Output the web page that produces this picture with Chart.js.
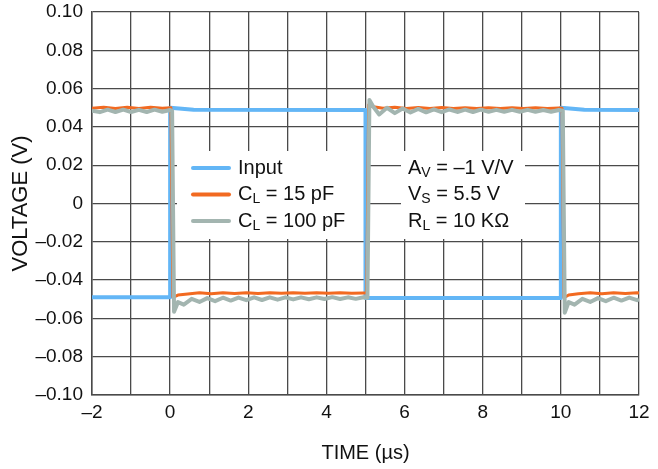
<!DOCTYPE html>
<html>
<head>
<meta charset="utf-8">
<script src="https://cdn.jsdelivr.net/npm/chart.js@4/dist/chart.umd.min.js"></script>
<style>
html,body{margin:0;padding:0;background:#fff;}
#wrap{width:658px;height:469px;position:relative;}
</style>
</head>
<body>
<div id="wrap"><canvas id="c" width="658" height="469"></canvas></div>
<script>
// ---- data ----
const xTickValues = [-2, 0, 2, 4, 6, 8, 10, 12];
const xTickLabels = ['\u20132', '0', '2', '4', '6', '8', '10', '12'];
const yTickValues = [-0.10, -0.08, -0.06, -0.04, -0.02, 0, 0.02, 0.04, 0.06, 0.08, 0.10];
const yTickLabels = ['\u20130.10', '\u20130.08', '\u20130.06', '\u20130.04', '\u20130.02', '0', '0.02', '0.04', '0.06', '0.08', '0.10'];

const seriesNames = ['Input', 'C_L = 15 pF', 'C_L = 100 pF'];

const inputTime = [-2, 0, 0, 0.6, 5, 5, 10, 10, 10.6, 12];
const inputVolt = [-0.0490, -0.0490, 0.0500, 0.0490, 0.0488, -0.0494, -0.0494, 0.0500, 0.0490, 0.0488];

const cl15Time = [-2.0, -1.7, -1.4, -1.1, -0.8, -0.5, -0.2, 0.02,
  0.07, 0.2, 0.45, 0.75, 1.05, 1.35, 1.65, 1.95, 2.25, 2.55, 2.85, 3.15, 3.45, 3.75, 4.05, 4.35, 4.65, 4.95, 5.03,
  5.08, 5.2, 5.45, 5.75, 6.05, 6.35, 6.65, 6.95, 7.25, 7.55, 7.85, 8.15, 8.45, 8.75, 9.05, 9.35, 9.65, 9.95, 10.03,
  10.08, 10.2, 10.45, 10.75, 11.05, 11.35, 11.65, 11.95, 12.0];
const cl15Volt = [0.0497, 0.0502, 0.0496, 0.0502, 0.0496, 0.0503, 0.0497, 0.0500,
  -0.0490, -0.0478, -0.0472, -0.0466, -0.0471, -0.0466, -0.0470, -0.0466, -0.0470, -0.0466, -0.0469, -0.0466, -0.0469, -0.0466, -0.0469, -0.0466, -0.0469, -0.0467, -0.0468,
  0.0515, 0.0505, 0.0497, 0.0502, 0.0496, 0.0501, 0.0496, 0.0501, 0.0496, 0.0500, 0.0496, 0.0500, 0.0496, 0.0500, 0.0496, 0.0500, 0.0496, 0.0499, 0.0498,
  -0.0492, -0.0478, -0.0471, -0.0466, -0.0471, -0.0466, -0.0470, -0.0466, -0.0467];

const cl100Time = [-2.0, -1.8, -1.6, -1.4, -1.2, -1.0, -0.8, -0.6, -0.4, -0.2, 0.0, 0.05,
  0.10, 0.20, 0.35, 0.55, 0.75, 0.95, 1.15, 1.35, 1.55, 1.75, 1.95, 2.15, 2.35, 2.55, 2.75, 2.95, 3.15, 3.35, 3.55, 3.75, 3.95, 4.15, 4.35, 4.55, 4.75, 4.95, 5.05,
  5.10, 5.20, 5.35, 5.55, 5.75, 5.95, 6.15, 6.35, 6.55, 6.75, 6.95, 7.15, 7.35, 7.55, 7.75, 7.95, 8.15, 8.35, 8.55, 8.75, 8.95, 9.15, 9.35, 9.55, 9.75, 9.95, 10.05,
  10.10, 10.20, 10.35, 10.55, 10.75, 10.95, 11.15, 11.35, 11.55, 11.75, 11.95, 12.0];
const cl100Volt = [0.0485, 0.0477, 0.0490, 0.0478, 0.0490, 0.0478, 0.0489, 0.0478, 0.0490, 0.0479, 0.0488, 0.0484,
  -0.0565, -0.0515, -0.0528, -0.0498, -0.0514, -0.0494, -0.0510, -0.0492, -0.0507, -0.0491, -0.0505, -0.0490, -0.0504, -0.0490, -0.0502, -0.0490, -0.0501, -0.0490, -0.0500, -0.0490, -0.0499, -0.0489, -0.0499, -0.0490, -0.0498, -0.0490, -0.0492,
  0.0540, 0.0505, 0.0465, 0.0500, 0.0472, 0.0496, 0.0475, 0.0494, 0.0476, 0.0492, 0.0477, 0.0491, 0.0478, 0.0490, 0.0478, 0.0490, 0.0479, 0.0489, 0.0479, 0.0489, 0.0479, 0.0489, 0.0479, 0.0488, 0.0479, 0.0488, 0.0485,
  -0.0570, -0.0515, -0.0528, -0.0498, -0.0514, -0.0494, -0.0510, -0.0492, -0.0507, -0.0491, -0.0505, -0.0500];

const annotationLines = [['A', 'V', ' = \u20131 V/V'], ['V', 'S', ' = 5.5 V'], ['R', 'L', ' = 10 K\u03A9']];

// ---- build ----
const FONT = "'Liberation Sans', Arial, Helvetica, sans-serif";
const COLORS = ['#63b6f6', '#f26a21', '#a3b5b0'];
const WIDTHS = [4, 3, 4];

function pts(t, v) { return t.map((x, i) => ({x: x, y: v[i]})); }

const datasets = [
  {label: seriesNames[0], data: pts(inputTime, inputVolt), borderColor: COLORS[0], borderWidth: WIDTHS[0], order: 3},
  {label: seriesNames[1], data: pts(cl15Time, cl15Volt), borderColor: COLORS[1], borderWidth: WIDTHS[1], order: 2},
  {label: seriesNames[2], data: pts(cl100Time, cl100Volt), borderColor: COLORS[2], borderWidth: WIDTHS[2], order: 1}
].map(d => Object.assign(d, {pointRadius: 0, tension: 0, fill: false, borderJoinStyle: 'round', borderCapStyle: 'butt'}));

function drawSub(ctx, x, y, main, sub, rest, size) {
  ctx.font = size + 'px ' + FONT;
  ctx.fillText(main, x, y);
  x += ctx.measureText(main).width;
  if (sub) {
    ctx.font = Math.round(size * 0.72) + 'px ' + FONT;
    ctx.fillText(sub, x, y + 5);
    x += ctx.measureText(sub).width;
  }
  ctx.font = size + 'px ' + FONT;
  ctx.fillText(rest, x, y);
}

const boxPlugin = {
  id: 'boxes',
  beforeDatasetsDraw(chart) {
    const ctx = chart.ctx;
    ctx.save();
    ctx.fillStyle = '#fff';
    ctx.fillRect(177, 151, 191, 88);
    ctx.fillRect(401, 151, 124, 88);
    ctx.restore();
  },
  afterDatasetsDraw(chart) {
    const ctx = chart.ctx;
    ctx.save();
    const rows = [168, 194.5, 221];
    const order = [0, 1, 2];
    ctx.textBaseline = 'middle';
    ctx.fillStyle = '#111';
    order.forEach((k, i) => {
      ctx.strokeStyle = COLORS[k];
      ctx.lineWidth = 4;
      ctx.lineCap = 'round';
      ctx.beginPath();
      ctx.moveTo(193, rows[i]);
      ctx.lineTo(229, rows[i]);
      ctx.stroke();
      const name = seriesNames[k];
      if (name.indexOf('_') > 0) {
        const main = name.split('_')[0];
        const sub = name.split('_')[1].charAt(0);
        const rest = name.split('_')[1].slice(1);
        drawSub(ctx, 238, rows[i], main, sub, rest, 20);
      } else {
        drawSub(ctx, 238, rows[i], name, '', '', 20);
      }
    });
    annotationLines.forEach((a, i) => {
      drawSub(ctx, 408, rows[i], a[0], a[1], a[2], 20);
    });
    ctx.restore();
  }
};

new Chart(document.getElementById('c'), {
  type: 'line',
  data: {datasets: datasets},
  plugins: [boxPlugin],
  options: {
    responsive: false,
    animation: false,
    devicePixelRatio: 1,
    layout: {padding: {top: 12, right: 19, left: 0, bottom: 0}},
    plugins: {legend: {display: false}, tooltip: {enabled: false}},
    scales: {
      x: {
        type: 'linear', min: -2, max: 12,
        afterFit: s => { s.height = 74; },
        ticks: {
          stepSize: 1, autoSkip: false, maxRotation: 0, padding: 6, color: '#111',
          font: {family: FONT, size: 19},
          callback: v => { const i = xTickValues.indexOf(Math.round(v)); return (Math.abs(v - Math.round(v)) < 1e-6 && i >= 0) ? xTickLabels[i] : ''; }
        },
        grid: {color: '#4a4a4a', lineWidth: 1.3, drawTicks: false},
        border: {color: '#4a4a4a', width: 1.5},
        title: {display: true, text: 'TIME (\u00B5s)', color: '#111', font: {family: FONT, size: 20}, padding: {top: 0, bottom: 4}}
      },
      y: {
        min: -0.1, max: 0.1,
        afterFit: s => { s.width = 92; },
        ticks: {
          stepSize: 0.02, autoSkip: false, padding: 9, color: '#111',
          font: {family: FONT, size: 19, lineHeight: 0.2},
          callback: v => { const i = yTickValues.findIndex(t => Math.abs(t - v) < 1e-6); return i >= 0 ? yTickLabels[i] : ''; }
        },
        grid: {color: '#4a4a4a', lineWidth: 1.3, drawTicks: false},
        border: {color: '#4a4a4a', width: 1.5},
        title: {display: true, text: 'VOLTAGE (V)', color: '#111', font: {family: FONT, size: 22}, padding: {top: 8, bottom: 0}}
      }
    }
  }
});
</script>
</body>
</html>
